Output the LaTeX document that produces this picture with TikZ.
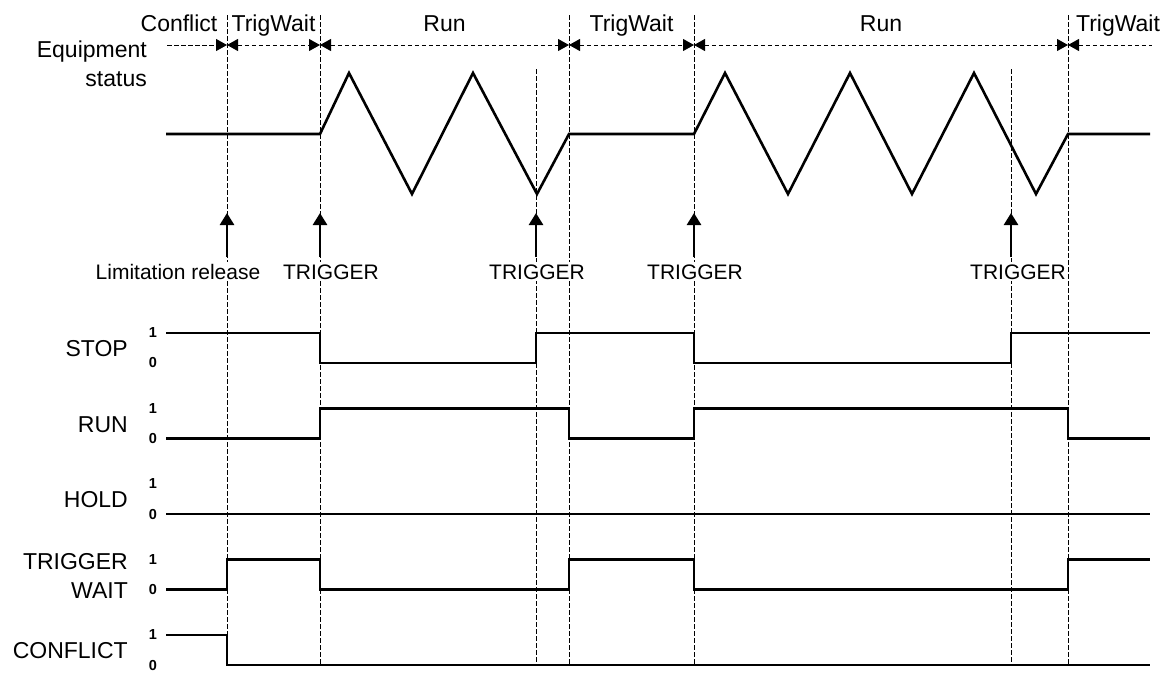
\documentclass[tikz,border=0pt]{standalone}
\usepackage{fontspec}
\setmainfont{Liberation Sans}
\usetikzlibrary{arrows.meta}

\begin{document}
\begin{tikzpicture}[x=1pt, y=-1pt,
  sig/.style={line width=2.6pt, line join=miter},
  guide/.style={line width=0.9pt, dash pattern=on 4.5pt off 2.5pt},
  bow/.tip={Triangle[length=11pt, width=12pt]},
  trig/.style={line width=2.6pt, -{Triangle[length=12pt, width=14pt]}},
  signame/.style={font=\fontsize{23}{29}\selectfont, align=right, anchor=base east, inner sep=0pt},
  lvl/.style={font=\bfseries\fontsize{14.5}{14.5}\selectfont, inner sep=0pt},
  state/.style={font=\fontsize{23}{23}\selectfont, anchor=base, inner sep=0pt},
  event/.style={font=\fontsize{21}{21}\selectfont, anchor=base, fill=white, inner sep=2pt}
]
\useasboundingbox (0,0) rectangle (1170,673);

% time marks
\coordinate (cr) at (227,0);  % limitation release
\coordinate (t1) at (320,0);
\coordinate (t2) at (536,0);
\coordinate (e1) at (569,0);
\coordinate (t3) at (694,0);
\coordinate (t4) at (1011,0);
\coordinate (e2) at (1068,0);

% vertical guides
\foreach \p in {cr,t1,e1,t3,e2}
  \draw[guide] (\p |- 0,15) -- (\p |- 0,665);
\foreach \p in {t2,t4}
  \draw[guide] (\p |- 0,69) -- (\p |- 0,665);

% state bar
\coordinate (h0) at (167,45);
\coordinate (h6) at (1152,45);
\draw[guide, -{bow}] (h0) -- (cr |- h0);
\draw[guide, {bow}-{bow}] (cr |- h0) -- (t1 |- h0);
\draw[guide, {bow}-{bow}] (t1 |- h0) -- (e1 |- h0);
\draw[guide, {bow}-{bow}] (e1 |- h0) -- (t3 |- h0);
\draw[guide, {bow}-{bow}] (t3 |- h0) -- (e2 |- h0);
\draw[guide, {bow}-] (e2 |- h0) -- (h6);

\node[state] (s1) at (179,31) {Conflict};
\node[state] (s2) at (273.5,31) {TrigWait};
\node[state] (s3) at (444.5,31) {Run};
\node[state] (s4) at (631.5,31) {TrigWait};
\node[state] (s5) at (881,31) {Run};
\node[state] (s6) at (1118,31) {TrigWait};

% equipment status
\node[signame] (eq) at (147,86) {Equipment\\status};
\draw[sig] (166,134) -- (320,134) -- (349,73) -- (412,194) -- (473,73)
  -- (537,194) -- (569,134) -- (694,134) -- (725,73) -- (788,194)
  -- (850,73) -- (912,194) -- (974,73) -- (1036,194) -- (1068,134) -- (1150,134);

% events
\node[event] (ev0) at (178,279) {Limitation release};
\node[event] (ev1) at (331,279) {TRIGGER};
\node[event] (ev2) at (537,279) {TRIGGER};
\node[event] (ev3) at (695,279) {TRIGGER};
\node[event] (ev4) at (1018,279) {TRIGGER};
\foreach \p in {cr,t1,t2,t3,t4}
  \draw[trig] (\p |- 0,257) -- (\p |- 0,213);

% signals
\node[signame] (stop) at (128,356) {STOP};
\node[signame] (run) at (128,432) {RUN};
\node[signame] (hold) at (128,507) {HOLD};
\node[signame] (tw) at (128,598) {TRIGGER\\WAIT};
\node[signame] (cf) at (128,658) {CONFLICT};
\foreach \b in {363,438.5,514,589.5,665} {
  \node[lvl] at (153,\b-30) {1};
  \node[lvl] at (153,\b) {0};
}

\draw[sig] (166,333) -- (320,333) -- (320,363) -- (536,363) -- (536,333)
  -- (694,333) -- (694,363) -- (1011,363) -- (1011,333) -- (1150,333);
\draw[sig] (166,438.5) -- (320,438.5) -- (320,408.5) -- (569,408.5) -- (569,438.5)
  -- (694,438.5) -- (694,408.5) -- (1068,408.5) -- (1068,438.5) -- (1150,438.5);
\draw[sig] (166,514) -- (1150,514);
\draw[sig] (166,589.5) -- (227,589.5) -- (227,559.5) -- (320,559.5) -- (320,589.5)
  -- (569,589.5) -- (569,559.5) -- (694,559.5) -- (694,589.5) -- (1068,589.5)
  -- (1068,559.5) -- (1150,559.5);
\draw[sig] (166,635) -- (227,635) -- (227,665) -- (1150,665);
\end{tikzpicture}
\end{document}
